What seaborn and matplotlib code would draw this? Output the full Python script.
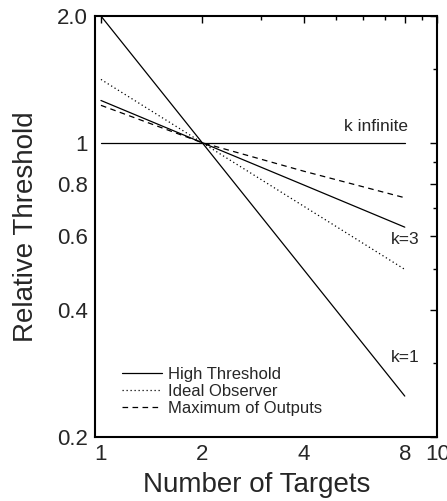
import matplotlib
matplotlib.use("Agg")
import matplotlib.pyplot as plt
import matplotlib.ticker as mticker
import seaborn as sns
import pandas as pd

# Data
targets = [1, 2, 4, 8]
high_k1 = [2.0, 1.0, 0.5, 0.25]
high_k3 = [1.26, 1.0, 0.794, 0.63]
high_kinf = [1.0, 1.0, 1.0, 1.0]
ideal_observer = [1.414, 1.0, 0.707, 0.5]
max_outputs = [1.227, 1.0, 0.856, 0.74]

x_ticks = [1, 2, 4, 8, 10]
x_tick_labels = ["1", "2", "4", "8", "10"]
y_ticks = [0.2, 0.4, 0.6, 0.8, 1.0, 2.0]
y_tick_labels = ["0.2", "0.4", "0.6", "0.8", "1", "2.0"]

sns.set_theme(style="white")
plt.rcParams["font.family"] = ["Liberation Sans", "DejaVu Sans"]

fig = plt.figure(figsize=(4.47, 5.01), dpi=100)
ax = fig.add_axes([0.2125, 0.128, 0.766, 0.840])

lw = 0.9
sns.lineplot(x=targets, y=high_k1, ax=ax, color="black", lw=lw, label="High Threshold")
sns.lineplot(x=targets, y=high_k3, ax=ax, color="black", lw=lw, label="_k3")
sns.lineplot(x=targets, y=high_kinf, ax=ax, color="black", lw=lw, label="_kinf")
sns.lineplot(x=targets, y=ideal_observer, ax=ax, color="black", lw=lw,
             linestyle=(0, (1, 2.2)), label="Ideal Observer")
sns.lineplot(x=targets, y=max_outputs, ax=ax, color="black", lw=lw,
             linestyle=(0, (4.5, 3.5)), label="Maximum of Outputs")

ax.set_xscale("log")
ax.set_yscale("log")
ax.set_xlim(0.96, 10)
ax.set_ylim(0.2, 2.0)

ax.xaxis.set_major_locator(mticker.FixedLocator(x_ticks))
ax.xaxis.set_major_formatter(mticker.FixedFormatter(x_tick_labels))
ax.xaxis.set_minor_locator(mticker.FixedLocator([3, 5, 6, 7, 9]))
ax.xaxis.set_minor_formatter(mticker.NullFormatter())
ax.yaxis.set_major_locator(mticker.FixedLocator(y_ticks))
ax.yaxis.set_major_formatter(mticker.FixedFormatter(y_tick_labels))
ax.yaxis.set_minor_locator(mticker.FixedLocator([0.3, 0.5, 0.7, 0.9, 1.5]))
ax.yaxis.set_minor_formatter(mticker.NullFormatter())

ax.tick_params(which="both", direction="in", top=True, right=True,
               color="black", width=1.0)
ax.tick_params(which="major", length=5, labelsize=16, pad=5)
ax.tick_params(which="minor", length=3)
for s in ax.spines.values():
    s.set_color("black")
    s.set_linewidth(1.5)

ax.set_xlabel("Number of Targets", fontsize=20)
ax.set_ylabel("Relative Threshold", fontsize=20)
ax.xaxis.set_label_coords(0.471, -0.083)
ax.yaxis.set_label_coords(-0.163, 0.50)

ax.text(0.822, 0.737, "k infinite", transform=ax.transAxes, fontsize=12.5,
        ha="center", va="center")
ax.text(0.905, 0.468, "k=3", transform=ax.transAxes, fontsize=12.5,
        ha="center", va="center")
ax.text(0.905, 0.188, "k=1", transform=ax.transAxes, fontsize=12.5,
        ha="center", va="center")

leg = ax.legend(loc="lower left", bbox_to_anchor=(0.079, 0.05), frameon=False,
                fontsize=12, handlelength=2.4, handletextpad=0.35,
                labelspacing=0.12, borderaxespad=0, borderpad=0)

fig.savefig("out.png", dpi=100)
